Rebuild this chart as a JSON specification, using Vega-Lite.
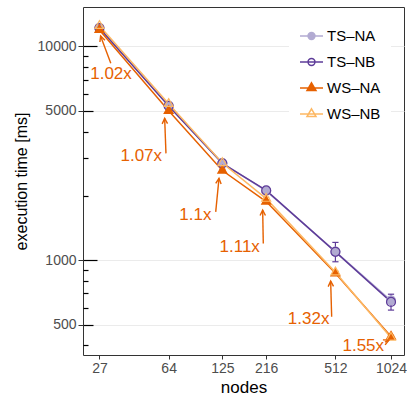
{
  "$schema": "https://vega.github.io/schema/vega-lite/v6.json",
  "width": 321,
  "height": 348,
  "autosize": {"type": "none"},
  "padding": {"left": 83, "top": 7, "right": 3, "bottom": 47},
  "config": {
    "font": "Liberation Sans",
    "view": {"stroke": "#333333", "strokeWidth": 1}
  },
  "datasets": {
    "main": [
      {"nodes": 27, "series": "TS–NA", "time": 12230, "lo": 12050, "hi": 12410},
      {"nodes": 64, "series": "TS–NA", "time": 5280, "lo": 5200, "hi": 5360},
      {"nodes": 125, "series": "TS–NA", "time": 2846, "lo": 2800, "hi": 2890},
      {"nodes": 216, "series": "TS–NA", "time": 2110, "lo": 2080, "hi": 2140},
      {"nodes": 512, "series": "TS–NA", "time": 1097, "lo": 1070, "hi": 1125},
      {"nodes": 1024, "series": "TS–NA", "time": 648, "lo": 630, "hi": 665},
      {"nodes": 27, "series": "TS–NB", "time": 12200, "lo": 12020, "hi": 12380},
      {"nodes": 64, "series": "TS–NB", "time": 5270, "lo": 5190, "hi": 5350},
      {"nodes": 125, "series": "TS–NB", "time": 2840, "lo": 2790, "hi": 2890},
      {"nodes": 216, "series": "TS–NB", "time": 2120, "lo": 2080, "hi": 2160},
      {"nodes": 512, "series": "TS–NB", "time": 1094, "lo": 983, "hi": 1211},
      {"nodes": 1024, "series": "TS–NB", "time": 638, "lo": 584, "hi": 693},
      {"nodes": 27, "series": "WS–NA", "time": 11950, "lo": 11800, "hi": 12100},
      {"nodes": 64, "series": "WS–NA", "time": 5000, "lo": 4930, "hi": 5070},
      {"nodes": 125, "series": "WS–NA", "time": 2627, "lo": 2590, "hi": 2665},
      {"nodes": 216, "series": "WS–NA", "time": 1881, "lo": 1855, "hi": 1905},
      {"nodes": 512, "series": "WS–NA", "time": 869, "lo": 857, "hi": 881},
      {"nodes": 1024, "series": "WS–NA", "time": 439, "lo": 433, "hi": 445},
      {"nodes": 27, "series": "WS–NB", "time": 12500, "lo": 12330, "hi": 12670},
      {"nodes": 64, "series": "WS–NB", "time": 5390, "lo": 5310, "hi": 5470},
      {"nodes": 125, "series": "WS–NB", "time": 2850, "lo": 2810, "hi": 2890},
      {"nodes": 216, "series": "WS–NB", "time": 1940, "lo": 1910, "hi": 1970},
      {"nodes": 512, "series": "WS–NB", "time": 878, "lo": 866, "hi": 890},
      {"nodes": 1024, "series": "WS–NB", "time": 434, "lo": 428, "hi": 440}
    ],
    "notes": [
      {"label": "1.02x", "tx": 31.2, "ty": 7407, "ax": 31.1, "ay": 8337, "bx": 27.4, "by": 11192, "angle": -20},
      {"label": "1.07x", "tx": 45.5, "ty": 3069, "ax": 61.9, "ay": 3161, "bx": 60.9, "by": 4608, "angle": -2},
      {"label": "1.1x", "tx": 89.3, "ty": 1625, "ax": 115.1, "ay": 1684, "bx": 119.9, "by": 2414, "angle": 6},
      {"label": "1.11x", "tx": 155.2, "ty": 1155, "ax": 208.3, "ay": 1198, "bx": 206.7, "by": 1715, "angle": -1},
      {"label": "1.32x", "tx": 366.7, "ty": 529.7, "ax": 488.6, "ay": 543, "bx": 482.5, "by": 798, "angle": -2},
      {"label": "1.55x", "tx": 724.4, "ty": 395.8, "ax": 949, "ay": 413.4, "bx": 998, "by": 422.4, "angle": 66}
    ]
  },
  "layer": [
    {
      "data": {"name": "main"},
      "mark": {"type": "line", "strokeWidth": 1.5},
      "encoding": {
        "x": {
          "field": "nodes", "type": "quantitative",
          "scale": {"type": "log", "domain": [22, 1204], "nice": false},
          "axis": {
            "values": [27, 64, 125, 216, 512, 1024], "format": "d",
            "tickSize": 4, "tickColor": "#333333", "labelColor": "#4d4d4d",
            "labelFontSize": 14, "labelPadding": 2, "labelFlush": false, "labelOverlap": false,
            "domain": false, "grid": false,
            "title": "nodes", "titleFontSize": 17, "titleFontWeight": "normal",
            "titleColor": "black", "titlePadding": 4
          }
        },
        "y": {
          "field": "time", "type": "quantitative",
          "scale": {"type": "log", "domain": [360, 15300], "nice": false},
          "axis": {
            "orient": "left", "values": [500, 1000, 5000, 10000], "format": "d",
            "tickSize": 5, "tickColor": "#333333", "labelColor": "#4d4d4d",
            "labelFontSize": 14, "labelPadding": 2, "domain": false,
            "grid": true, "gridColor": "#ebebeb", "gridWidth": 1,
            "title": "execution time [ms]", "titleFontSize": 16, "titleFontWeight": "normal",
            "titleColor": "black", "titlePadding": 8
          }
        },
        "color": {
          "field": "series", "type": "nominal",
          "scale": {
            "domain": ["TS–NA", "TS–NB", "WS–NA", "WS–NB"],
            "range": ["#b2abd2", "#5e3c99", "#e66101", "#fdb863"]
          },
          "legend": {
            "title": null, "orient": "none", "legendX": 206, "legendY": 6.5,
            "fillColor": "white", "padding": 10, "rowPadding": 5,
            "symbolSize": 529, "labelOffset": 3, "labelFontSize": 15,
            "labelColor": "black", "symbolStrokeWidth": 1.5,
            "encode": {
              "symbols": {
                "update": {
                  "shape": {"signal": "(datum.value === 'TS–NA' || datum.value === 'TS–NB') ? 'M-1,0H1M-0.3,0A0.3,0.3,0,1,0,0.3,0A0.3,0.3,0,1,0,-0.3,0' : 'M-1,0H1M0,-0.45L0.39,0.22L-0.39,0.22Z'"},
                  "fill": {"signal": "datum.value === 'TS–NA' ? '#b2abd2' : (datum.value === 'WS–NA' ? '#e66101' : 'transparent')"},
                  "strokeWidth": {"value": 1.5},
                  "opacity": {"value": 1}
                }
              }
            }
          }
        }
      }
    },
    {
      "data": {"name": "main"},
      "mark": {"type": "rule", "strokeWidth": 1.2},
      "encoding": {
        "x": {"field": "nodes", "type": "quantitative", "scale": {"type": "log", "domain": [22, 1204], "nice": false}},
        "y": {
          "field": "lo", "type": "quantitative",
          "scale": {"type": "log", "domain": [360, 15300], "nice": false},
          "axis": {"orient": "left", "values": [1000, 10000], "tickSize": -14, "tickColor": "black", "tickWidth": 1.2, "labels": false, "domain": false, "grid": false, "title": null}
        },
        "y2": {"field": "hi"},
        "color": {"field": "series", "type": "nominal", "legend": null}
      }
    },
    {
      "data": {"name": "main"},
      "mark": {"type": "tick", "orient": "horizontal", "size": 5, "thickness": 0.01, "filled": false, "strokeWidth": 1.2, "opacity": 1},
      "encoding": {
        "x": {"field": "nodes", "type": "quantitative", "scale": {"type": "log", "domain": [22, 1204], "nice": false}},
        "y": {
          "field": "lo", "type": "quantitative",
          "scale": {"type": "log", "domain": [360, 15300], "nice": false},
          "axis": {"orient": "left", "values": [500, 5000], "tickSize": -10, "tickColor": "black", "tickWidth": 1.2, "labels": false, "domain": false, "grid": false, "title": null}
        },
        "color": {"field": "series", "type": "nominal", "legend": null}
      }
    },
    {
      "data": {"name": "main"},
      "mark": {"type": "tick", "orient": "horizontal", "size": 5, "thickness": 0.01, "filled": false, "strokeWidth": 1.2, "opacity": 1},
      "encoding": {
        "x": {"field": "nodes", "type": "quantitative", "scale": {"type": "log", "domain": [22, 1204], "nice": false}},
        "y": {
          "field": "hi", "type": "quantitative",
          "scale": {"type": "log", "domain": [360, 15300], "nice": false},
          "axis": {"orient": "left", "values": [400, 600, 700, 800, 900, 2000, 3000, 4000, 6000, 7000, 8000, 9000], "tickSize": -5, "tickColor": "black", "tickWidth": 1.2, "labels": false, "domain": false, "grid": false, "title": null}
        },
        "color": {"field": "series", "type": "nominal", "legend": null}
      }
    },
    {
      "data": {"name": "main"},
      "mark": {"type": "point", "filled": false, "strokeWidth": 1.2, "opacity": 1},
      "encoding": {
        "x": {"field": "nodes", "type": "quantitative", "scale": {"type": "log", "domain": [22, 1204], "nice": false}},
        "y": {"field": "time", "type": "quantitative", "scale": {"type": "log", "domain": [360, 15300], "nice": false}, "axis": null},
        "color": {"field": "series", "type": "nominal", "legend": null},
        "shape": {
          "field": "series", "type": "nominal",
          "scale": {"domain": ["WS–NB", "WS–NA", "TS–NB", "TS–NA"], "range": ["M0,-1.155L1,0.577L-1,0.577Z", "M0,-1.155L1,0.577L-1,0.577Z", "circle", "circle"]},
          "legend": null
        },
        "fill": {
          "field": "series", "type": "nominal",
          "scale": {"domain": ["TS–NB", "TS–NA", "WS–NB", "WS–NA"], "range": ["transparent", "#b2abd2", "transparent", "#e66101"]},
          "legend": null
        },
        "size": {
          "field": "series", "type": "nominal",
          "scale": {"domain": ["WS–NA", "WS–NB", "TS–NA", "TS–NB"], "range": [80, 80, 45, 45]},
          "legend": null
        }
      }
    },
    {
      "data": {"name": "notes"},
      "mark": {"type": "rule", "color": "#e66101", "strokeWidth": 1.4},
      "encoding": {
        "x": {"field": "ax", "type": "quantitative", "scale": {"type": "log", "domain": [22, 1204], "nice": false}},
        "y": {"field": "ay", "type": "quantitative", "scale": {"type": "log", "domain": [360, 15300], "nice": false}, "axis": null},
        "x2": {"field": "bx"},
        "y2": {"field": "by"}
      }
    },
    {
      "data": {"name": "notes"},
      "mark": {"type": "point", "shape": "M-0.45,0.9L0,0L0.45,0.9", "size": 144, "filled": false, "color": "#e66101", "strokeWidth": 1.4, "opacity": 1},
      "encoding": {
        "x": {"field": "bx", "type": "quantitative", "scale": {"type": "log", "domain": [22, 1204], "nice": false}},
        "y": {"field": "by", "type": "quantitative", "scale": {"type": "log", "domain": [360, 15300], "nice": false}, "axis": null},
        "angle": {"field": "angle", "type": "quantitative", "scale": null}
      }
    },
    {
      "data": {"name": "notes"},
      "mark": {"type": "text", "fontSize": 17, "color": "#e66101", "align": "center", "baseline": "middle"},
      "encoding": {
        "x": {"field": "tx", "type": "quantitative", "scale": {"type": "log", "domain": [22, 1204], "nice": false}},
        "y": {"field": "ty", "type": "quantitative", "scale": {"type": "log", "domain": [360, 15300], "nice": false}, "axis": null},
        "text": {"field": "label", "type": "nominal"}
      }
    }
  ],
  "resolve": {"scale": {"y": "shared"}, "axis": {"y": "independent"}}
}
